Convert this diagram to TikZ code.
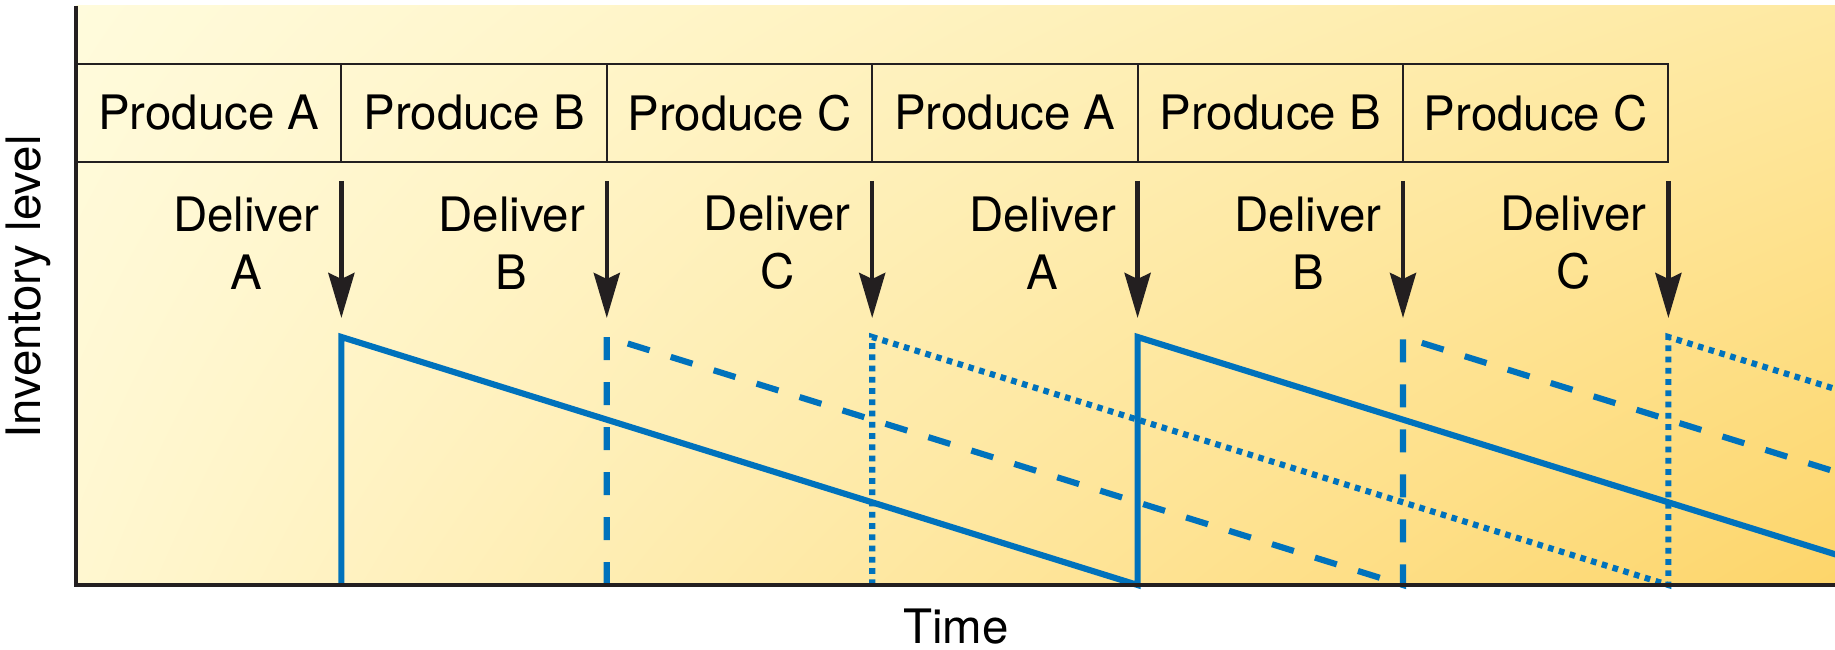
\documentclass[tikz,border=0pt]{standalone}
\usepackage{fontspec}
\setmainfont{TeX Gyre Heros}
\usetikzlibrary{arrows.meta,shadings}
\definecolor{bgtl}{HTML}{FFFBDC}
\definecolor{bgtr}{HTML}{FEE9A2}
\definecolor{bgbl}{HTML}{FFF7D0}
\definecolor{bgbr}{HTML}{FDD56A}
\definecolor{invblue}{HTML}{0072BC}
\definecolor{inkdark}{HTML}{231F20}
\begin{document}
\begin{tikzpicture}[font=\fontsize{13.5}{16.5}\selectfont]
        \useasboundingbox (-0.76,-0.64) rectangle (17.59,5.85);
        \shade[upper left=bgtl, upper right=bgtr, lower left=bgbl, lower right=bgbr]
          (0,0) rectangle (17.59,5.79);
        \coordinate (origin) at (0,0);
        \coordinate (ytop) at (0,5.79);
        \coordinate (xend) at (17.59,0);
        \begin{scope}
          % production schedule
          \begin{scope}[every node/.style={draw=inkdark, line width=0.6pt, rectangle,
              minimum width=2.654cm, minimum height=0.98cm, inner sep=0pt}]
            \node (prodA1) at (1.327,4.72) {Produce A};
            \node (prodB1) at (3.981,4.72) {Produce B};
            \node (prodC1) at (6.635,4.72) {Produce C};
            \node (prodA2) at (9.289,4.72) {Produce A};
            \node (prodB2) at (11.943,4.72) {Produce B};
            \node (prodC2) at (14.597,4.72) {Produce C};
          \end{scope}
          % deliveries
          \begin{scope}[every node/.style={align=center, inner sep=0pt}]
            \node (delA1) at (1.704,3.42) {Deliver\\A};
            \node (delB1) at (4.358,3.42) {Deliver\\B};
            \node (delC1) at (7.012,3.42) {Deliver\\C};
            \node (delA2) at (9.666,3.42) {Deliver\\A};
            \node (delB2) at (12.320,3.42) {Deliver\\B};
            \node (delC2) at (14.974,3.42) {Deliver\\C};
          \end{scope}
          \coordinate (dtop1) at (2.654,4.04);  \coordinate (dtip1) at (2.654,2.67);
          \coordinate (dtop2) at (5.308,4.04);  \coordinate (dtip2) at (5.308,2.67);
          \coordinate (dtop3) at (7.962,4.04);  \coordinate (dtip3) at (7.962,2.67);
          \coordinate (dtop4) at (10.616,4.04); \coordinate (dtip4) at (10.616,2.67);
          \coordinate (dtop5) at (13.270,4.04); \coordinate (dtip5) at (13.270,2.67);
          \coordinate (dtop6) at (15.924,4.04); \coordinate (dtip6) at (15.924,2.67);
          \begin{scope}[every edge/.style={draw=inkdark, line width=1.3pt,
              -{Stealth[length=4.5mm, width=2.6mm, inset=0.6mm]}}]
            \path (dtop1) edge (dtip1);
            \path (dtop2) edge (dtip2);
            \path (dtop3) edge (dtip3);
            \path (dtop4) edge (dtip4);
            \path (dtop5) edge (dtip5);
            \path (dtop6) edge (dtip6);
          \end{scope}
          % inventory levels
          \begin{scope}[draw=invblue, line width=1.75pt]
            \clip (0,-0.1) rectangle (17.59,5.79);
            \draw (2.654,0) -- (2.654,2.48) -- (10.616,0) -- (10.616,2.48) -- (18.578,0);
            \draw[dash pattern=on 6.5pt off 6.3pt]
              (5.308,0) -- (5.308,2.48) -- (13.270,0) -- (13.270,2.48) -- (21.232,0);
            \draw[dash pattern=on 1.6pt off 1.6pt]
              (7.962,0) -- (7.962,2.48) -- (15.924,0) -- (15.924,2.48) -- (23.886,0);
          \end{scope}
          % axes
          \draw[draw=inkdark, line width=0.9pt] (ytop) -- (origin) -- (xend);
          \node[inner sep=0pt] (xlab) at (8.80,-0.42) {Time};
          \node[rotate=90, inner sep=0pt] (ylab) at (-0.48,2.98) {Inventory level};
        \end{scope}
      \end{tikzpicture}
\end{document}
